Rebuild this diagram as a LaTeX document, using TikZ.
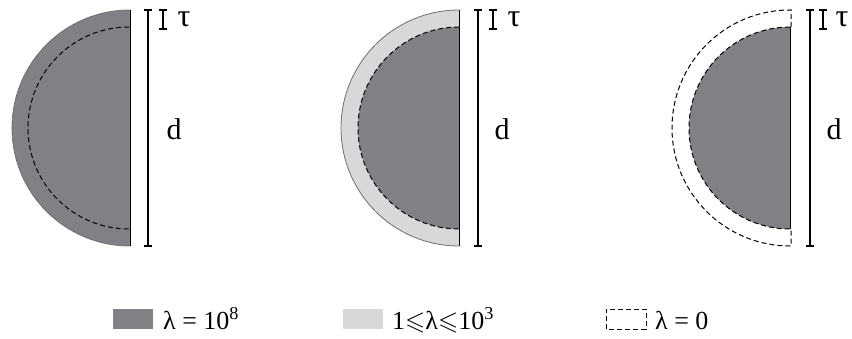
\documentclass[tikz,border=0pt]{standalone}
\usepackage{amssymb}
\usepackage{fontspec}
\setmainfont{Liberation Serif}
\definecolor{darkfill}{HTML}{808185}
\definecolor{lightfill}{HTML}{D7D8DA}
\definecolor{rimgray}{HTML}{6D6E71}
\begin{document}
\begin{tikzpicture}[x=1pt,y=1pt,
  bar/.style={line width=2.6pt, line cap=butt},
  taubar/.style={line width=2.2pt, line cap=butt},
  rim/.style={draw=rimgray, line width=0.8pt},
  flat/.style={line width=1pt},
  dsh/.style={line width=1pt, dash pattern=on 5pt off 3pt},
  lbl/.style={inner sep=0pt, anchor=base, font=\fontsize{30}{34}\selectfont},
  taulbl/.style={inner sep=0pt, anchor=base, font=\fontsize{32}{36}\selectfont},
  leg/.style={inner sep=0pt, anchor=base west, font=\fontsize{26}{30}\selectfont}]
\useasboundingbox (0,0) rectangle (852,338);

% ---------- shape 1 ----------
\fill[darkfill] (130,328) arc[start angle=90,end angle=270,radius=118] -- cycle;
\draw[rim] (130,328) arc[start angle=90,end angle=270,radius=118];
\draw[flat] (130,328) -- (130,92);
\draw[dsh] (129,311) arc[start angle=90,end angle=270,radius=101];
\draw[bar] (144,92) -- (152,92) (148,92) -- (148,328) (144,328) -- (152,328);
\draw[taubar] (159,309) -- (167,309) (163,309) -- (163,328) (159,328) -- (167,328);
\node[taulbl] (t1) at (184,311) {τ};
\node[lbl] (d1) at (174,198) {d};

% ---------- shape 2 ----------
\fill[lightfill] (459,328) arc[start angle=90,end angle=270,radius=118] -- cycle;
\draw[rim] (459,328) arc[start angle=90,end angle=270,radius=118];
\fill[darkfill] (459,311) arc[start angle=90,end angle=270,radius=101] -- cycle;
\draw[dsh] (459,311) arc[start angle=90,end angle=270,radius=101];
\draw[flat] (459,328) -- (459,92);
\draw[bar] (474,92) -- (482,92) (478,92) -- (478,328) (474,328) -- (482,328);
\draw[taubar] (489,309) -- (497,309) (493,309) -- (493,328) (489,328) -- (497,328);
\node[taulbl] (t2) at (514,311) {τ};
\node[lbl] (d2) at (502,198) {d};

% ---------- shape 3 ----------
\draw[dsh] (791,311) -- (791,328) -- (790,328) arc[start angle=90,end angle=270,radius=118] -- (791,92) -- (791,109);
\fill[darkfill] (790,311) arc[start angle=90,end angle=270,radius=101] -- cycle;
\draw[dsh] (790,311) arc[start angle=90,end angle=270,radius=101];
\draw[flat] (790,311) -- (790,109);
\draw[bar] (806,92) -- (814,92) (810,92) -- (810,328) (806,328) -- (814,328);
\draw[taubar] (819,309) -- (827,309) (823,309) -- (823,328) (819,328) -- (827,328);
\node[taulbl] (t3) at (842,311) {τ};
\node[lbl] (d3) at (834,198) {d};

% ---------- legend ----------
\fill[darkfill] (113,9) rectangle (153,29);
\node[leg] (l1) at (163,9) {λ = 10\textsuperscript{8}};
\fill[lightfill] (343,9) rectangle (383,29);
\node[leg] (l2) at (392,9) {1$\leqslant$λ$\leqslant$10\textsuperscript{3}};
\draw[dsh, line width=0.8pt] (606,9) rectangle (646,29);
\node[leg] (l3) at (655,9) {λ = 0};
\end{tikzpicture}
\end{document}
